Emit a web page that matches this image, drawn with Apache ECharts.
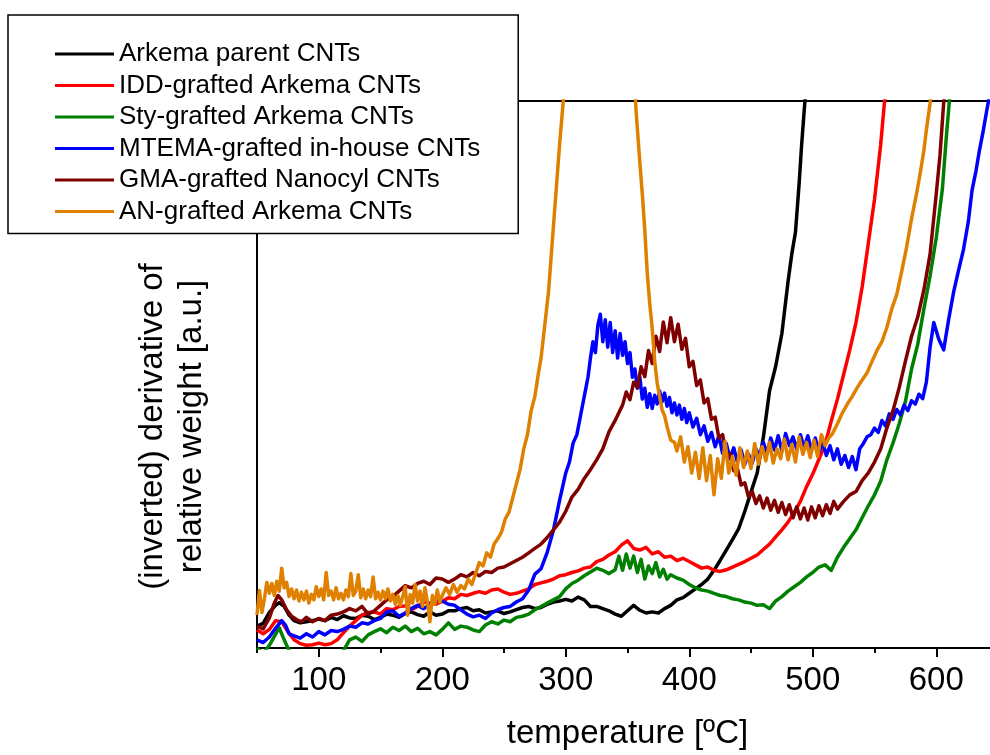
<!DOCTYPE html>
<html>
<head>
<meta charset="utf-8">
<script src="https://cdn.jsdelivr.net/npm/echarts@6/dist/echarts.min.js"></script>
<style>
html,body{margin:0;padding:0;background:#fff;}
#chart{width:990px;height:755px;}
</style>
</head>
<body>
<div id="chart"></div>
<script>
// ---- data ----
const seriesNames = ['Arkema parent CNTs','IDD-grafted Arkema CNTs','Sty-grafted Arkema CNTs','MTEMA-grafted in-house CNTs','GMA-grafted Nanocyl CNTs','AN-grafted Arkema CNTs'];
const seriesColors = ['#000000','#FF0000','#008000','#0000FF','#800000','#DF8000'];
const xTickLabels = [100,200,300,400,500,600];
const xMinorTicks = [50,150,250,350,450,550,650];

// [temperature, value] pairs
const parentData = [[50,4.0],[55,4.5],[60,6.5],[65,7.8],[68,8.3],[72,7.6],[76,6.0],[80,5.0],[85,4.6],[90,4.8],[95,5.0],[100,5.3],[105,5.0],[110,5.6],[115,5.2],[120,5.9],[125,5.5],[130,5.4],[135,6.0],[140,5.8],[145,5.2],[150,5.6],[155,6.2],[160,6.0],[165,5.6],[170,6.3],[175,6.6],[180,6.1],[185,5.8],[190,6.6],[195,6.0],[200,6.2],[205,6.8],[210,6.8],[215,7.2],[220,7.4],[225,6.8],[230,7.0],[235,6.4],[240,6.6],[245,6.8],[250,6.3],[255,6.6],[260,7.0],[265,7.4],[270,7.6],[275,7.2],[280,7.4],[285,8.0],[290,8.4],[295,8.6],[300,8.9],[305,8.6],[310,9.3],[315,8.8],[320,7.6],[325,7.6],[330,7.2],[335,6.8],[340,6.2],[345,5.8],[350,6.8],[355,7.8],[360,6.9],[365,6.4],[370,6.6],[375,6.4],[380,7.2],[385,7.8],[390,8.8],[395,9.2],[400,10.0],[405,10.8],[410,11.6],[415,12.6],[420,14.2],[425,16.0],[430,17.9],[435,19.8],[440,21.8],[445,25],[450,28.5],[455,32],[460,38.5],[465,47],[470,51.5],[475,57.5],[480,67],[483,72],[486,76],[489,85],[491,92],[493,98],[495,104]];

const iddData = [[50,3.3],[55,2.6],[60,3.4],[65,5.0],[70,4.8],[75,3.0],[80,1.5],[85,0.8],[90,0.5],[95,0.6],[100,0.9],[105,0.6],[110,0.8],[115,1.5],[120,2.8],[125,4.0],[130,5.0],[135,6.0],[140,6.5],[145,6.6],[150,6.2],[155,7.2],[160,7.0],[165,7.6],[170,7.7],[175,7.0],[180,7.6],[185,8.4],[190,8.2],[195,8.0],[200,8.5],[205,9.2],[210,9.0],[215,9.8],[220,9.6],[225,10.0],[230,10.3],[235,10.0],[240,10.6],[245,10.8],[250,10.2],[255,9.8],[260,10.0],[265,10.4],[270,10.8],[275,11.6],[280,11.9],[285,12.2],[290,12.6],[295,13.2],[300,13.4],[305,13.8],[310,14.1],[315,14.6],[320,14.8],[325,15.8],[330,16.2],[335,17.0],[340,17.6],[345,18.8],[350,19.6],[355,18.2],[360,17.9],[365,18.4],[370,17.2],[375,17.6],[380,16.6],[385,16.8],[390,16.0],[395,16.4],[400,15.8],[405,15.2],[410,14.6],[415,14.8],[420,14.2],[425,14.0],[430,14.3],[435,14.8],[440,15.3],[445,15.8],[450,16.4],[455,17.0],[460,18.0],[465,19.0],[470,20.3],[475,21.6],[480,23.0],[485,24.8],[490,26.8],[495,29.5],[500,31.8],[505,34.5],[510,37.2],[515,41.5],[520,45.5],[525,50],[530,54.5],[535,59.5],[540,66],[545,74],[550,82],[555,92],[558,99.6],[561,105]];

const styData = [[50,0],[55,-1],[60,0.5],[65,2.5],[68,3.7],[72,1.5],[76,-0.5],[80,-1],[90,-1.5],[100,-1],[110,-1.5],[120,-0.5],[125,1.5],[130,2.0],[135,1.2],[140,2.4],[145,3.0],[150,3.5],[155,2.8],[160,3.8],[165,3.2],[170,4.0],[175,3.0],[180,3.6],[185,2.6],[190,3.0],[195,2.4],[200,3.4],[205,4.6],[210,3.4],[215,4.0],[220,3.8],[225,3.3],[230,3.0],[235,4.2],[240,4.8],[245,4.4],[250,5.1],[255,4.8],[260,5.6],[265,5.8],[270,6.2],[275,7.0],[280,7.6],[285,8.2],[290,8.8],[295,9.4],[300,10.8],[305,11.8],[310,12.4],[315,13.2],[320,13.9],[325,14.6],[330,14.2],[335,13.6],[340,14.3],[343,16.8],[346,14.2],[349,17.2],[352,14.6],[355,16.8],[358,13.8],[361,16.2],[364,12.6],[367,15.0],[370,13.6],[373,15.6],[376,13.0],[379,14.4],[382,12.6],[385,13.4],[390,12.8],[395,12.4],[400,11.6],[405,11.0],[410,10.6],[415,10.4],[420,10.0],[425,9.6],[430,9.4],[435,9.0],[440,8.8],[445,8.4],[450,8.2],[455,7.8],[460,7.9],[465,7.2],[470,8.6],[475,9.4],[480,10.4],[485,11.2],[490,12.0],[495,13.0],[500,13.8],[505,14.8],[510,15.2],[515,14.2],[520,16.6],[525,18.4],[530,20.0],[535,21.6],[540,23.8],[545,26.0],[550,28.0],[555,30.5],[560,34.4],[565,37.5],[570,41.0],[575,45.0],[580,51.0],[585,55.5],[590,62],[595,68],[600,75],[605,84],[608,93],[611,101],[613,105]];

const mtemaData = [[50,1.5],[55,1.0],[60,2.0],[65,3.6],[70,5.0],[73,4.2],[76,2.6],[80,2.2],[85,1.8],[90,2.6],[95,2.0],[100,3.0],[105,2.4],[110,3.2],[115,3.0],[120,3.4],[125,4.0],[130,3.8],[135,4.6],[140,4.4],[145,5.0],[150,5.4],[155,6.6],[160,6.8],[165,5.8],[170,6.4],[175,7.2],[180,7.8],[185,7.2],[190,8.0],[195,8.8],[200,8.6],[205,8.0],[210,7.8],[215,7.0],[220,6.2],[225,5.7],[230,6.0],[235,5.4],[240,6.4],[245,7.0],[250,7.4],[255,7.6],[260,8.4],[265,9.0],[270,10.6],[275,13.5],[280,14.5],[285,17.5],[290,21.5],[295,27.0],[300,32.0],[303,34.0],[306,37.5],[309,39.0],[312,42.5],[315,46.0],[318,49.5],[320,53],[322,56],[324,54],[326,59],[328,61],[330,56],[332,60],[334,55],[336,59.5],[338,54],[340,58],[342,53],[344,57.5],[346,53.5],[348,56],[350,52],[352,54],[354,49.5],[356,51],[358,47.5],[360,49.5],[362,45.5],[364,47.5],[366,44],[368,46.5],[370,43.8],[372,46.2],[374,44.6],[376,47.0],[378,45.0],[380,46.6],[382,44.2],[384,45.8],[386,43.0],[388,44.8],[390,42.6],[392,44.4],[394,41.8],[396,43.8],[398,41.2],[400,43.0],[403,40.4],[406,42.0],[409,39.0],[412,40.6],[415,37.8],[418,39.4],[421,36.8],[424,38.8],[427,35.6],[430,37.4],[433,34.6],[436,36.6],[439,34.0],[442,36.2],[445,33.6],[448,35.4],[451,33.8],[454,36.4],[457,35.0],[460,37.6],[463,35.6],[466,38.4],[469,36.2],[472,38.8],[475,36.0],[478,39.2],[481,37.0],[484,38.6],[487,36.4],[490,39.0],[493,36.6],[496,38.8],[499,36.2],[502,38.4],[505,35.8],[508,37.6],[511,35.2],[514,37.0],[517,34.4],[520,36.4],[523,33.6],[526,35.2],[529,33.0],[532,35.0],[535,32.6],[538,36.4],[541,37.4],[544,38.6],[547,39.0],[550,40.2],[553,39.4],[556,41.6],[559,40.6],[562,42.8],[565,41.8],[568,43.6],[571,42.6],[574,44.4],[577,43.4],[580,45.2],[583,44.6],[586,46.4],[589,45.6],[592,48.6],[595,55.0],[598,59.5],[602,56.5],[606,54.5],[610,60.0],[614,65.0],[618,69.0],[622,72.8],[626,78.0],[629,83.7],[632,87.0],[635,91.0],[638,94.5],[641,98.4],[644,102]];

const gmaData = [[50,4.0],[55,3.5],[60,5.5],[64,8.2],[67,9.6],[70,8.8],[74,7.0],[78,5.8],[82,5.2],[86,4.8],[90,5.6],[95,4.8],[100,5.4],[105,5.0],[110,6.0],[115,6.2],[120,6.6],[125,7.2],[130,6.8],[135,7.6],[140,6.2],[145,6.8],[150,7.8],[155,8.8],[160,9.4],[165,10.4],[170,11.4],[175,11.0],[180,11.8],[185,12.2],[190,11.6],[195,12.8],[200,12.6],[205,12.0],[210,12.6],[215,13.4],[220,13.0],[225,13.8],[230,13.2],[235,14.0],[240,13.8],[245,14.6],[250,14.8],[255,15.4],[260,16.0],[265,16.6],[270,17.4],[275,18.2],[280,19.0],[285,20.2],[290,21.6],[295,23.0],[300,25.0],[305,27.6],[310,29.0],[315,31.0],[320,32.6],[325,34.4],[330,36.4],[335,39.5],[340,41.6],[343,43.0],[346,44.4],[349,46.8],[352,45.4],[355,48.6],[358,47.6],[361,51.4],[364,49.6],[367,54.4],[370,52.0],[373,57.0],[376,54.2],[379,59.6],[382,55.8],[385,60.4],[388,56.0],[391,59.2],[394,54.6],[397,56.6],[400,51.4],[403,52.4],[406,48.0],[409,49.0],[412,44.8],[415,45.6],[418,41.8],[421,42.2],[424,38.4],[427,39.0],[430,35.2],[433,35.6],[436,32.4],[439,32.8],[442,29.8],[445,30.2],[448,27.6],[451,28.6],[454,26.4],[457,27.8],[460,25.6],[463,27.4],[466,25.2],[469,27.0],[472,24.8],[475,26.6],[478,24.4],[481,26.2],[484,23.8],[487,25.8],[490,23.6],[493,25.6],[496,23.4],[499,25.8],[502,23.8],[505,26.0],[508,24.2],[511,26.2],[514,24.6],[517,26.8],[520,25.4],[525,26.8],[530,28.0],[535,28.6],[540,30.6],[545,32.0],[550,34.0],[555,36.4],[560,40.2],[565,43.4],[570,47.6],[575,52.4],[580,57.0],[585,60.5],[590,65.5],[595,72.0],[600,83.0],[603,90.0],[606,99.6],[608,104]];

const anData = [[50,6.0],[52,10.5],[54,6.5],[56,9.0],[58,12.0],[60,10.0],[62,11.8],[64,9.6],[66,12.2],[68,10.4],[70,14.6],[72,11.0],[74,12.0],[76,9.4],[78,10.8],[80,9.0],[82,10.6],[84,8.6],[86,10.2],[88,8.8],[90,10.4],[92,8.2],[94,9.8],[96,8.8],[98,11.2],[100,9.4],[102,10.8],[104,8.8],[106,13.8],[108,9.6],[110,10.4],[112,8.8],[114,11.0],[116,9.0],[118,10.0],[120,8.8],[122,10.6],[124,9.4],[126,13.6],[128,9.6],[130,10.4],[132,13.4],[134,9.2],[136,10.8],[138,9.0],[140,10.6],[142,9.4],[144,13.0],[146,9.0],[148,10.2],[150,8.8],[152,10.4],[154,9.0],[156,10.8],[158,8.6],[160,9.8],[162,8.0],[164,9.6],[166,7.8],[168,9.4],[170,11.2],[172,6.0],[174,9.8],[176,8.2],[178,11.6],[180,8.6],[182,10.4],[184,7.6],[186,11.0],[188,8.4],[190,4.8],[192,9.6],[194,8.0],[196,10.6],[198,8.4],[200,9.6],[203,11.0],[206,9.8],[209,11.6],[212,10.2],[215,11.4],[218,10.8],[221,12.6],[224,11.6],[227,13.6],[230,15.6],[233,15.0],[236,17.4],[239,16.6],[242,19.0],[245,20.0],[248,21.2],[251,23.6],[254,24.8],[257,27.4],[260,30.0],[263,32.6],[266,36.4],[269,39.0],[272,43.4],[275,46.0],[278,50.4],[280,53.0],[283,59.0],[286,65.0],[289,74.0],[292,83.0],[295,92.0],[298,100],[300,106],[301,null],[354,null],[355,106],[357,98],[360,88.7],[362,83],[364,76.4],[366,68.5],[368,63],[370,58.5],[372,52.5],[374,48.5],[376,46.0],[378,43.5],[380,42.5],[382,40.5],[385,38.0],[388,37.6],[390,36.0],[393,38.6],[396,34.0],[399,36.8],[402,32.0],[405,35.8],[408,31.0],[411,36.6],[414,30.6],[417,35.2],[420,28.0],[423,34.6],[426,31.0],[429,37.8],[432,32.0],[435,35.0],[438,31.6],[441,36.6],[444,33.0],[447,36.0],[450,32.8],[453,37.4],[456,33.6],[459,36.8],[462,34.2],[465,37.6],[468,33.8],[471,36.4],[474,34.6],[477,38.2],[480,34.4],[483,37.2],[486,34.0],[489,38.6],[492,35.4],[495,37.6],[498,34.8],[501,38.0],[504,35.0],[507,39.0],[510,37.0],[513,38.4],[516,39.2],[520,41.0],[524,43.0],[528,44.6],[532,46.0],[536,47.6],[540,49.0],[544,50.3],[548,52.4],[552,54.4],[556,56.0],[560,58.6],[564,62.0],[568,64.6],[572,68.8],[576,73.3],[580,78.5],[584,83.0],[587,86.8],[590,91.0],[592,94.7],[595,99.6],[597,104]];

const allData = [parentData, iddData, styData, mtemaData, gmaData, anData];

const FONT = '"Liberation Sans", Arial, sans-serif';

const chart = echarts.init(document.getElementById('chart'), null, {renderer: 'canvas'});

const series = seriesNames.map((name, i) => ({
  name: name,
  type: 'line',
  data: allData[i],
  showSymbol: false,
  symbol: 'none',
  connectNulls: false,
  clip: true,
  lineStyle: {width: 3.5, color: seriesColors[i], join: 'round'},
  itemStyle: {color: seriesColors[i]},
  emphasis: {disabled: true},
  z: 2
}));

chart.setOption({
  animation: false,
  color: seriesColors,
  grid: {
    left: 257, right: -8, top: 101, bottom: 107,
    outerBoundsMode: 'none',
    containLabel: false,
    show: true, borderColor: '#000', borderWidth: 2, backgroundColor: 'transparent'
  },
  legend: {
    orient: 'vertical',
    left: 8, top: 15,
    padding: [26, 38, 9, 47],
    itemWidth: 59, itemHeight: 3, itemGap: 5.5,
    icon: 'rect',
    selectedMode: false,
    backgroundColor: '#fff',
    borderColor: '#000', borderWidth: 1.5, borderRadius: 0,
    textStyle: {fontFamily: FONT, fontSize: 26, lineHeight: 26, color: '#000'},
    data: seriesNames,
    z: 10
  },
  xAxis: [{
    type: 'value', min: 50, max: 650, interval: 50,
    position: 'bottom',
    name: 'temperature [ºC]', nameLocation: 'middle', nameGap: 69,
    nameTextStyle: {fontFamily: FONT, fontSize: 33, color: '#000'},
    axisLine: {show: true, onZero: false, lineStyle: {color: '#000', width: 2}},
    axisTick: {show: true, inside: false, length: 9, customValues: xTickLabels, lineStyle: {color: '#000', width: 2}},
    axisLabel: {show: true, customValues: xTickLabels, margin: 16, fontFamily: FONT, fontSize: 33, color: '#000'},
    splitLine: {show: false}
  }, {
    type: 'value', min: 50, max: 650, interval: 50,
    position: 'bottom',
    axisLine: {show: false},
    axisTick: {show: true, inside: false, length: 5, customValues: xMinorTicks, lineStyle: {color: '#000', width: 2}},
    axisLabel: {show: false},
    splitLine: {show: false}
  }],
  yAxis: {
    type: 'value', min: 0, max: 100,
    name: '(inverted) derivative of\nrelative weight [a.u.]',
    nameLocation: 'middle', nameGap: 46,
    nameTextStyle: {fontFamily: FONT, fontSize: 33, lineHeight: 39, color: '#000', padding: [0, 104, 0, 0]},
    axisLine: {show: true, onZero: false, lineStyle: {color: '#000', width: 2}},
    axisTick: {show: false},
    axisLabel: {show: false},
    splitLine: {show: false}
  },
  series: series
});
</script>
</body>
</html>
